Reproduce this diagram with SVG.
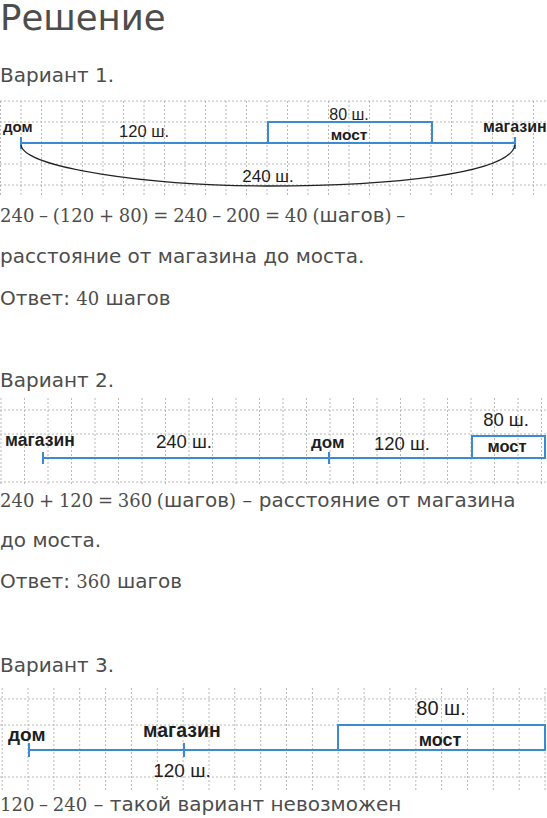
<svg xmlns="http://www.w3.org/2000/svg" width="547" height="818" viewBox="0 0 547 818">
<defs>
<style>
.bg{fill:#ffffff}
.g{stroke:#b8b8b8;stroke-width:1;stroke-dasharray:2 2;fill:none}
.t{font-family:"DejaVu Sans","Noto Sans",sans-serif;fill:#4d4d4d;font-size:20px}
.n{font-family:"DejaVu Serif","Liberation Serif",serif;font-size:18px;word-spacing:-1px}
.h{font-size:35.5px}
.l{font-family:"Liberation Sans",Arial,sans-serif;fill:#1e1e1e}
.lb{font-family:"Liberation Sans",Arial,sans-serif;fill:#1e1e1e;font-weight:bold}
.bl{stroke:#3a8bd4;stroke-width:2;fill:none}
.cv{stroke:#222;stroke-width:1.3;fill:none}
</style>
</defs>
<rect class="bg" x="0" y="0" width="547" height="818"/>

<g id="grid1">
<path class="g" d="M0,101H547M0,122H547M0,164H547M0,185H547"/>
<path class="g" d="M0.5,101V195M21,101V195M41.5,101V195M62,101V195M82.5,101V195M103,101V195M123.5,101V195M144,101V195M164.5,101V195M185,101V195M205.5,101V195M226,101V195M246.5,101V195M267,101V195M287.5,101V195M308,101V195M328.5,101V195M349,101V195M369.5,101V195M390,101V195M410.5,101V195M431,101V195M451.5,101V195M472,101V195M492.5,101V195M513,101V195M533.5,101V195"/>
</g>
<g id="grid2">
<path class="g" d="M0,410H547M0,434H547M0,482H547"/>
<path class="g" d="M1,398V484M24.5,398V484M48,398V484M71.5,398V484M95,398V484M118.5,398V484M142,398V484M165.5,398V484M189,398V484M212.5,398V484M236,398V484M259.5,398V484M283,398V484M306.5,398V484M330,398V484M353.5,398V484M377,398V484M400.5,398V484M424,398V484M447.5,398V484M471,398V484M494.5,398V484M518,398V484M541.5,398V484"/>
</g>
<g id="grid3">
<path class="g" d="M0,699H547M0,725H547M0,777H547"/>
<path class="g" d="M2.2,688V790M28,688V790M53.9,688V790M79.7,688V790M105.6,688V790M131.4,688V790M157.3,688V790M183.1,688V790M209,688V790M234.8,688V790M260.7,688V790M286.5,688V790M312.4,688V790M338.2,688V790M364.1,688V790M389.9,688V790M415.8,688V790M441.6,688V790M467.5,688V790M493.3,688V790M519.2,688V790M545,688V790"/>
</g>

<g id="title">
<text class="t h" x="0" y="30">Решение</text>
</g>

<g id="variant1">
<text class="t" x="0" y="82">Вариант 1.</text>
<g id="v1-line">
<path class="bl" d="M21,143H515M21,137V149M515,137V149"/>
</g>
<g id="v1-bridge">
<rect class="bl" x="268" y="122" width="164" height="21"/>
<text class="l" x="349" y="120" font-size="16" text-anchor="middle">80 ш.</text>
<text class="lb" x="349" y="140" font-size="15.5" text-anchor="middle">мост</text>
</g>
<g id="v1-home"><text class="lb" x="3" y="132" font-size="15">дом</text></g>
<g id="v1-shop"><text class="lb" x="483" y="132" font-size="16">магазин</text></g>
<text class="l" x="144" y="137" font-size="16.5" text-anchor="middle">120 ш.</text>
<g id="v1-connectors">
<path class="cv" d="M21,145C24,168 150,186 268,186C390,186 510,174 515,145"/>
</g>
<text class="l" x="268" y="182" font-size="17" text-anchor="middle">240 ш.</text>
<text class="t" x="0" y="222"><tspan class="n">240 – (120 + 80) = 240 – 200 = 40 (</tspan>шагов<tspan class="n">) –</tspan></text>
<text class="t" x="0" y="263">расстояние от магазина до моста.</text>
<text class="t" x="0" y="305">Ответ: <tspan class="n">40</tspan> шагов</text>
</g>

<g id="variant2">
<text class="t" x="0" y="387">Вариант 2.</text>
<g id="v2-line">
<path class="bl" d="M43,458H472M43,452V464M329,452V464"/>
</g>
<g id="v2-shop"><text class="lb" x="5" y="446" font-size="17.5">магазин</text></g>
<text class="l" x="184" y="448" font-size="18.5" text-anchor="middle">240 ш.</text>
<g id="v2-home"><text class="lb" x="311" y="448" font-size="17">дом</text></g>
<text class="l" x="402" y="450" font-size="18.5" text-anchor="middle">120 ш.</text>
<g id="v2-bridge">
<rect class="bl" x="472" y="436" width="73" height="22"/>
<text class="l" x="506" y="426" font-size="18.5" text-anchor="middle">80 ш.</text>
<text class="lb" x="507" y="452" font-size="16.5" text-anchor="middle">мост</text>
</g>
<text class="t" x="0" y="507"><tspan class="n">240 + 120 = 360 (</tspan>шагов<tspan class="n">)</tspan> – расстояние от магазина</text>
<text class="t" x="0" y="547">до моста.</text>
<text class="t" x="0" y="588">Ответ: <tspan class="n">360</tspan> шагов</text>
</g>

<g id="variant3">
<text class="t" x="0" y="672">Вариант 3.</text>
<g id="v3-line">
<path class="bl" d="M29,750H338M29,743V757M184,743V757"/>
</g>
<g id="v3-home"><text class="lb" x="8" y="741" font-size="19">дом</text></g>
<g id="v3-shop"><text class="lb" x="143" y="737" font-size="19.5">магазин</text></g>
<text class="l" x="182" y="777" font-size="19" text-anchor="middle">120 ш.</text>
<g id="v3-bridge">
<rect class="bl" x="338" y="725" width="207" height="25"/>
<text class="l" x="441" y="715" font-size="20" text-anchor="middle">80 ш.</text>
<text class="lb" x="440" y="746" font-size="18" text-anchor="middle">мост</text>
</g>
<text class="t" x="0" y="811" font-size="21.5"><tspan class="n">120 – 240</tspan> – такой вариант невозможен</text>
</g>
</svg>
